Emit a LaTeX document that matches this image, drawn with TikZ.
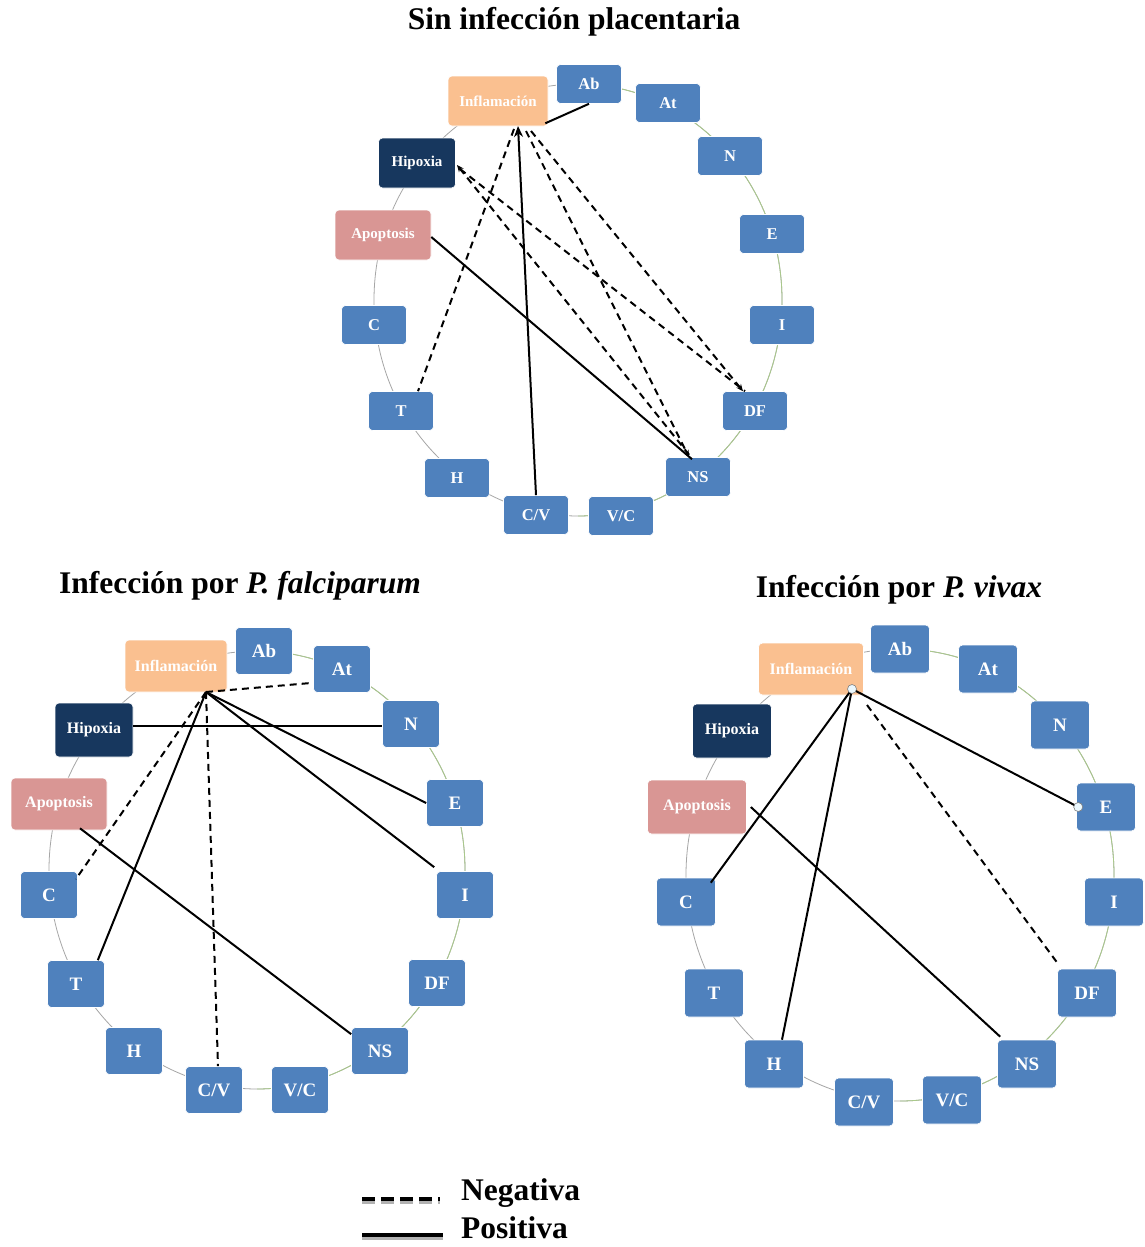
\documentclass[tikz,border=0pt]{standalone}
\usepackage{fontspec}
\setmainfont{Liberation Serif}
\usetikzlibrary{arrows.meta}
\definecolor{bxblue}{HTML}{4F81BD}
\definecolor{bxorange}{HTML}{FAC090}
\definecolor{bxpink}{HTML}{D99694}
\definecolor{bxnavy}{HTML}{17375E}
\definecolor{arcgray}{HTML}{A6A6A6}
\definecolor{arcgreen}{HTML}{A9C98A}
\begin{document}
\begin{tikzpicture}[x=1pt,y=-1pt,
  box/.style={rectangle, rounded corners=4pt, fill=bxblue, draw=white, line width=0.6pt,
    text=white, inner sep=0pt},
  tbox/.style={box, minimum width=65pt, minimum height=39pt, font=\fontsize{16.5}{16.5}\selectfont\bfseries},
  tcol/.style={font=\fontsize{15}{15}\selectfont\bfseries},
  lbox/.style={box, minimum width=57pt, minimum height=47pt, font=\fontsize{19}{19}\selectfont\bfseries},
  rbox/.style={box, minimum width=59pt, minimum height=48pt, font=\fontsize{19}{19}\selectfont\bfseries},
  bcol/.style={font=\fontsize{16}{16}\selectfont\bfseries},
  infl/.style={fill=bxorange},
  apop/.style={fill=bxpink},
  hipo/.style={fill=bxnavy},
  ring/.style={draw=arcgray, line width=0.8pt},
  ringg/.style={draw=arcgreen, line width=0.8pt},
  posl/.style={draw=black, line width=2pt},
  negl/.style={draw=black, line width=2pt, dash pattern=on 7pt off 5pt},
  tip/.style={-{Stealth[length=7pt,width=6pt]}},
  ttl/.style={font=\fontsize{31.5}{31.5}\selectfont\bfseries, inner sep=0pt},
  dotc/.style={circle, fill=cyan!8, draw=gray, line width=0.6pt, minimum size=9pt, inner sep=0pt}
]
\useasboundingbox (0,0) rectangle (1144,1247);
\fill[white] (0,0) rectangle (1144,1247);

% ---------- titles ----------
\node[ttl] (t1) at (574,22) {Sin infección placentaria};
\node[ttl] (t2) at (240,586) {Infección por \textit{P. falciparum}};
\node[ttl] (t3) at (899,590) {Infección por \textit{P. vivax}};

% ---------- rings ----------
\draw[ring] (578,300) ellipse [x radius=204, y radius=216];
\begin{scope}\clip (578,0) rectangle (1144,560);
\draw[ringg] (578,300) ellipse [x radius=204, y radius=216];\end{scope}
\draw[ring] (257,870) ellipse [x radius=208, y radius=219];
\begin{scope}\clip (257,600) rectangle (640,1140);
\draw[ringg] (257,870) ellipse [x radius=208, y radius=219];\end{scope}
\draw[ring] (900,875) ellipse [x radius=214, y radius=226];
\begin{scope}\clip (900,600) rectangle (1144,1140);
\draw[ringg] (900,875) ellipse [x radius=214, y radius=226];\end{scope}

% ---------- top circle ----------
\node[tbox, infl, tcol, minimum width=100pt, minimum height=50pt] (tInf) at (498,101) {Inflamación};
\node[tbox] (tAb) at (589,84) {Ab};
\node[tbox] (tAt) at (668,103) {At};
\node[tbox] (tN) at (730,156) {N};
\node[tbox] (tE) at (772,234) {E};
\node[tbox] (tI) at (782,325) {I};
\node[tbox] (tDF) at (755,411) {DF};
\node[tbox] (tNS) at (698,477) {NS};
\node[tbox] (tVC) at (621,516) {V/C};
\node[tbox] (tCV) at (536,515) {C/V};
\node[tbox] (tH) at (457,478) {H};
\node[tbox] (tT) at (401,411) {T};
\node[tbox] (tC) at (374,325) {C};
\node[tbox, apop, tcol, minimum width=96pt, minimum height=50pt] (tApo) at (383,235) {Apoptosis};
\node[tbox, hipo, tcol, minimum width=77pt, minimum height=50pt] (tHip) at (417,163) {Hipoxia};

\coordinate (tF) at (518,126);
\coordinate (tFa) at (514,129);
\coordinate (tFb) at (526,131);
\coordinate (tFc) at (531,131);
\coordinate (tHa) at (457,165);
\coordinate (tHb) at (460,169);

\draw[posl] (tAb.south) -- ([xshift=-3pt,yshift=3pt]tInf.south east);
\draw[posl, -{Stealth[length=11pt,width=9pt]}] (tCV.north) -- (tF);
\draw[negl] (tFa) -- ([xshift=17pt]tT.north);
\draw[negl, tip] (tFb) -- ([xshift=-9pt]tNS.north);
\draw[negl, tip] (tFc) -- ([xshift=-12pt]tDF.north);
\draw[negl, {Stealth[length=7pt,width=6pt]}-] (tHa) -- ([xshift=-7pt]tNS.north);
\draw[negl] (tHb) -- ([xshift=-10pt]tDF.north);
\draw[posl] ([yshift=-2pt]tApo.east) -- ([xshift=-6pt,yshift=-2pt]tNS.north);

% ---------- bottom-left circle ----------
\node[lbox, infl, bcol, minimum width=102pt, minimum height=52pt] (bInf) at (176,666) {Inflamación};
\node[lbox] (bAb) at (264,651) {Ab};
\node[lbox] (bAt) at (342,669) {At};
\node[lbox] (bN) at (411,724) {N};
\node[lbox] (bE) at (455,803) {E};
\node[lbox] (bI) at (465,895) {I};
\node[lbox] (bDF) at (437,983) {DF};
\node[lbox] (bNS) at (380,1051) {NS};
\node[lbox] (bVC) at (300,1090) {V/C};
\node[lbox] (bCV) at (214,1090) {C/V};
\node[lbox] (bH) at (134,1051) {H};
\node[lbox] (bT) at (76,984) {T};
\node[lbox] (bC) at (49,895) {C};
\node[lbox, apop, bcol, minimum width=96pt, minimum height=52pt] (bApo) at (59,804) {Apoptosis};
\node[lbox, hipo, bcol, minimum width=78pt, minimum height=54pt] (bHip) at (94,730) {Hipoxia};

\coordinate (bF) at (206,692);
\draw[negl] (bF) -- ([yshift=10pt]bAt.south west);
\draw[negl] (bF) -- ([xshift=-2pt,yshift=-8pt]bC.north east);
\draw[posl] (bF) -- ([xshift=-7pt]bT.north east);
\draw[negl] (bF) -- ([xshift=4pt]bCV.north);
\draw[posl] (bF) -- (bE.west);
\draw[posl] (bF) -- ([xshift=-2pt,yshift=4pt]bI.north west);
\draw[posl] ([yshift=4pt]bHip.east) -- ([yshift=-2pt]bN.west);
\draw[posl] ([xshift=21pt,yshift=2pt]bApo.south) -- ([yshift=-7pt]bNS.north west);

% ---------- bottom-right circle ----------
\node[rbox, infl, bcol, minimum width=105pt, minimum height=52pt] (rInf) at (811,669) {Inflamación};
\node[rbox] (rAb) at (900,649) {Ab};
\node[rbox] (rAt) at (988,669) {At};
\node[rbox] (rN) at (1060,725) {N};
\node[rbox] (rE) at (1106,807) {E};
\node[rbox] (rI) at (1114,902) {I};
\node[rbox] (rDF) at (1087,993) {DF};
\node[rbox] (rNS) at (1027,1064) {NS};
\node[rbox] (rVC) at (952,1100) {V/C};
\node[rbox] (rCV) at (864,1102) {C/V};
\node[rbox] (rH) at (774,1064) {H};
\node[rbox] (rT) at (714,993) {T};
\node[rbox] (rC) at (686,902) {C};
\node[rbox, apop, bcol, minimum width=99pt, minimum height=54pt] (rApo) at (697,807) {Apoptosis};
\node[rbox, hipo, bcol, minimum width=79pt, minimum height=54pt] (rHip) at (732,731) {Hipoxia};

\coordinate (rF) at (852,689);
\coordinate (rFd) at (867,705);
\draw[posl] (rF) -- ([xshift=-5pt,yshift=-5pt]rC.north east);
\draw[posl] (rF) -- ([xshift=8pt]rH.north);
\draw[posl] (rF) -- ([xshift=2pt]rE.west);
\draw[negl] (rFd) -- ([yshift=6pt]rDF.north west);
\draw[posl] ([xshift=4pt]rApo.east) -- ([xshift=3pt,yshift=3pt]rNS.north west);
\node[dotc] (rFdot) at (rF) {};
\node[dotc] (rEdot) at ([xshift=2pt]rE.west) {};

% ---------- legend ----------
\coordinate (lnA) at (362,1199);
\coordinate (lnB) at (440,1199);
\coordinate (lpA) at (362,1235);
\coordinate (lpB) at (443,1235);
\draw[gray!60, line width=3pt, dash pattern=on 13pt off 6pt] ([yshift=-3pt]lnA) -- ([yshift=-3pt]lnB);
\draw[black, line width=4pt, dash pattern=on 13pt off 6pt] (lnA) -- (lnB);
\draw[gray!60, line width=3pt] ([yshift=-3pt]lpA) -- ([yshift=-3pt]lpB);
\draw[black, line width=4pt] (lpA) -- (lpB);
\node[ttl, anchor=west] (lgN) at (461,1193) {Negativa};
\node[ttl, anchor=west] (lgP) at (461,1228) {Positiva};
\end{tikzpicture}
\end{document}
